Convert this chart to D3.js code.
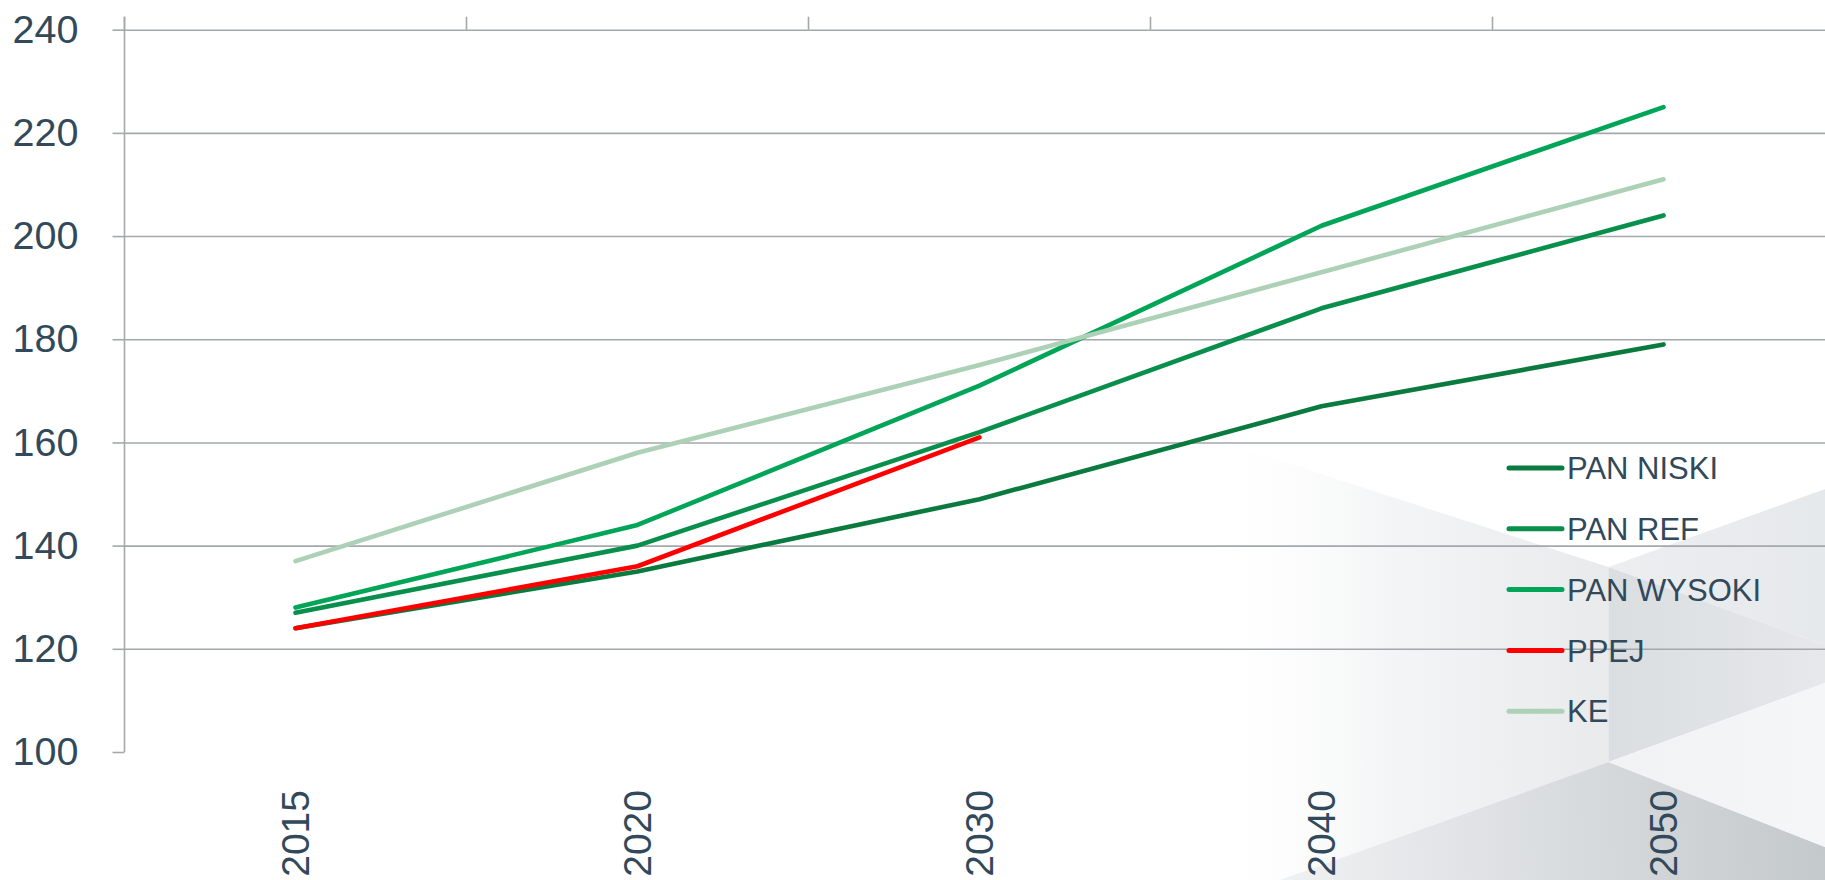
<!DOCTYPE html>
<html>
<head>
<meta charset="utf-8">
<script src="https://cdn.jsdelivr.net/npm/d3@7"></script>
<style>
  html, body { margin: 0; padding: 0; background: #fff; }
  svg { display: block; font-family: "Liberation Sans", Arial, sans-serif; }
</style>
</head>
<body>
<svg width="1825" height="880"></svg>
<script>
// data
const years = ["2015", "2020", "2030", "2040", "2050"];
const seriesNames = ["PAN NISKI", "PAN REF", "PAN WYSOKI", "PPEJ", "KE"];
const panNiski = [124, 135, 149, 167, 179];
const panRef = [127, 140, 162, 186, 204];
const panWysoki = [128, 144, 171, 202, 225];
const ppej = [124, 136, 161, null, null];
const ke = [137, 158, 175, 193, 211];
const seriesColors = ["#0a7a3f", "#078f4b", "#00a557", "#ff0000", "#acd1b6"];
const yTicks = [100, 120, 140, 160, 180, 200, 220, 240];

const seriesValues = [panNiski, panRef, panWysoki, ppej, ke];

const W = 1825, H = 880;
const plotLeft = 124.5, plotTop = 29.7, plotBottom = 752, band = 342;
const textColor = "#31495a";
const gridColor = "#a4a8ab";

const svg = d3.select("svg");
const defs = svg.append("defs");

// background decoration (grey facets in the lower right)
function grad(id, x1, y1, x2, y2, stops) {
  const g = defs.append("linearGradient").attr("id", id)
    .attr("gradientUnits", "userSpaceOnUse")
    .attr("x1", x1).attr("y1", y1).attr("x2", x2).attr("y2", y2);
  stops.forEach(s => g.append("stop").attr("offset", s[0]).attr("stop-color", s[1]).attr("stop-opacity", s[2] == null ? 1 : s[2]));
  return `url(#${id})`;
}
const A = [1608.5, 567], B = [1608.5, 762];
const facets = [
  { pts: [[1222, 442], A, B, [1280, 880], [1130, 880], [1150, 442]],
    fill: grad("g1", 1200, 600, 1608, 600, [[0, "#ffffff", 0], [0.45, "#f4f5f6", 1], [1, "#e8eaec", 1]]) },
  { pts: [[1280, 880], B, [1825, 847], [1825, 880]],
    fill: grad("g2", 1300, 880, 1825, 860, [[0, "#eef0f1"], [0.5, "#d9dcdf"], [1, "#c4c9cc"]]) },
  { pts: [A, [1825, 489], [1825, 645]],
    fill: grad("g3", 1608, 560, 1825, 560, [[0, "#eceef0"], [1, "#e6e9eb"]]) },
  { pts: [A, [1825, 645], [1825, 683], B],
    fill: grad("g4", 1608, 660, 1825, 660, [[0, "#dadee1"], [1, "#e6e8ea"]]) },
  { pts: [B, [1825, 683], [1825, 847]],
    fill: grad("g5", 1608, 760, 1825, 760, [[0, "#f1f2f3"], [1, "#f5f6f7"]]) }
];
svg.append("g").selectAll("polygon")
  .data(facets)
  .join("polygon")
  .attr("points", d => d.pts.map(p => p.join(",")).join(" "))
  .attr("fill", d => d.fill);

// scales
const x = d3.scaleBand()
  .domain(years)
  .range([plotLeft, plotLeft + band * years.length]);

const y = d3.scaleLinear()
  .domain([100, 240])
  .range([plotBottom, plotTop]);

// horizontal gridlines
svg.append("g")
  .attr("transform", `translate(${plotLeft},0)`)
  .call(d3.axisLeft(y)
    .tickValues(yTicks.filter(v => v > 100))
    .tickSize(-(W - plotLeft))
    .tickFormat(""))
  .call(g => g.select(".domain").remove())
  .call(g => g.selectAll("line").attr("stroke", gridColor).attr("stroke-width", 1.6));

// y axis with outward ticks and labels
svg.append("g")
  .attr("transform", `translate(${plotLeft},0)`)
  .call(d3.axisLeft(y)
    .tickValues(yTicks)
    .tickSize(12)
    .tickPadding(34))
  .call(g => g.select(".domain").remove())
  .call(g => g.selectAll("line").attr("stroke", gridColor).attr("stroke-width", 1.6))
  .call(g => g.selectAll("text")
    .attr("fill", textColor)
    .style("font-size", "39.5px")
    .style("font-family", "'Liberation Sans', Arial, sans-serif"));

svg.append("line")
  .attr("x1", plotLeft).attr("x2", plotLeft)
  .attr("y1", plotTop - 13).attr("y2", plotBottom)
  .attr("stroke", gridColor).attr("stroke-width", 1.6);

// category ticks on the top, at band boundaries
svg.append("g").selectAll("line")
  .data(years)
  .join("line")
  .attr("x1", d => x(d)).attr("x2", d => x(d))
  .attr("y1", plotTop).attr("y2", plotTop - 13)
  .attr("stroke", gridColor).attr("stroke-width", 1.6);

// rotated year labels at the bottom
svg.append("g").selectAll("text")
  .data(years)
  .join("text")
  .attr("transform", d => `translate(${x(d) + x.bandwidth() / 2},790) rotate(-90)`)
  .attr("dy", "0.35em")
  .attr("text-anchor", "end")
  .attr("fill", textColor)
  .style("font-size", "39px")
  .text(d => d);

// lines
const line = d3.line()
  .defined(d => d != null)
  .x((d, i) => x(years[i]) + x.bandwidth() / 2)
  .y(d => y(d));

svg.append("g").selectAll("path")
  .data(seriesValues)
  .join("path")
  .attr("fill", "none")
  .attr("stroke", (d, i) => seriesColors[i])
  .attr("stroke-width", 4.6)
  .attr("stroke-linecap", "round")
  .attr("stroke-linejoin", "round")
  .attr("d", line);

// legend
const legend = svg.append("g")
  .attr("transform", "translate(1507,468)");

const item = legend.selectAll("g")
  .data(seriesNames)
  .join("g")
  .attr("transform", (d, i) => `translate(0,${i * 60.8})`);

item.append("line")
  .attr("x1", 2).attr("x2", 55)
  .attr("stroke", (d, i) => seriesColors[i])
  .attr("stroke-width", 5)
  .attr("stroke-linecap", "round");

item.append("text")
  .attr("x", 60)
  .attr("dy", "0.36em")
  .attr("fill", textColor)
  .style("font-size", "31px")
  .text(d => d);
</script>
</body>
</html>
